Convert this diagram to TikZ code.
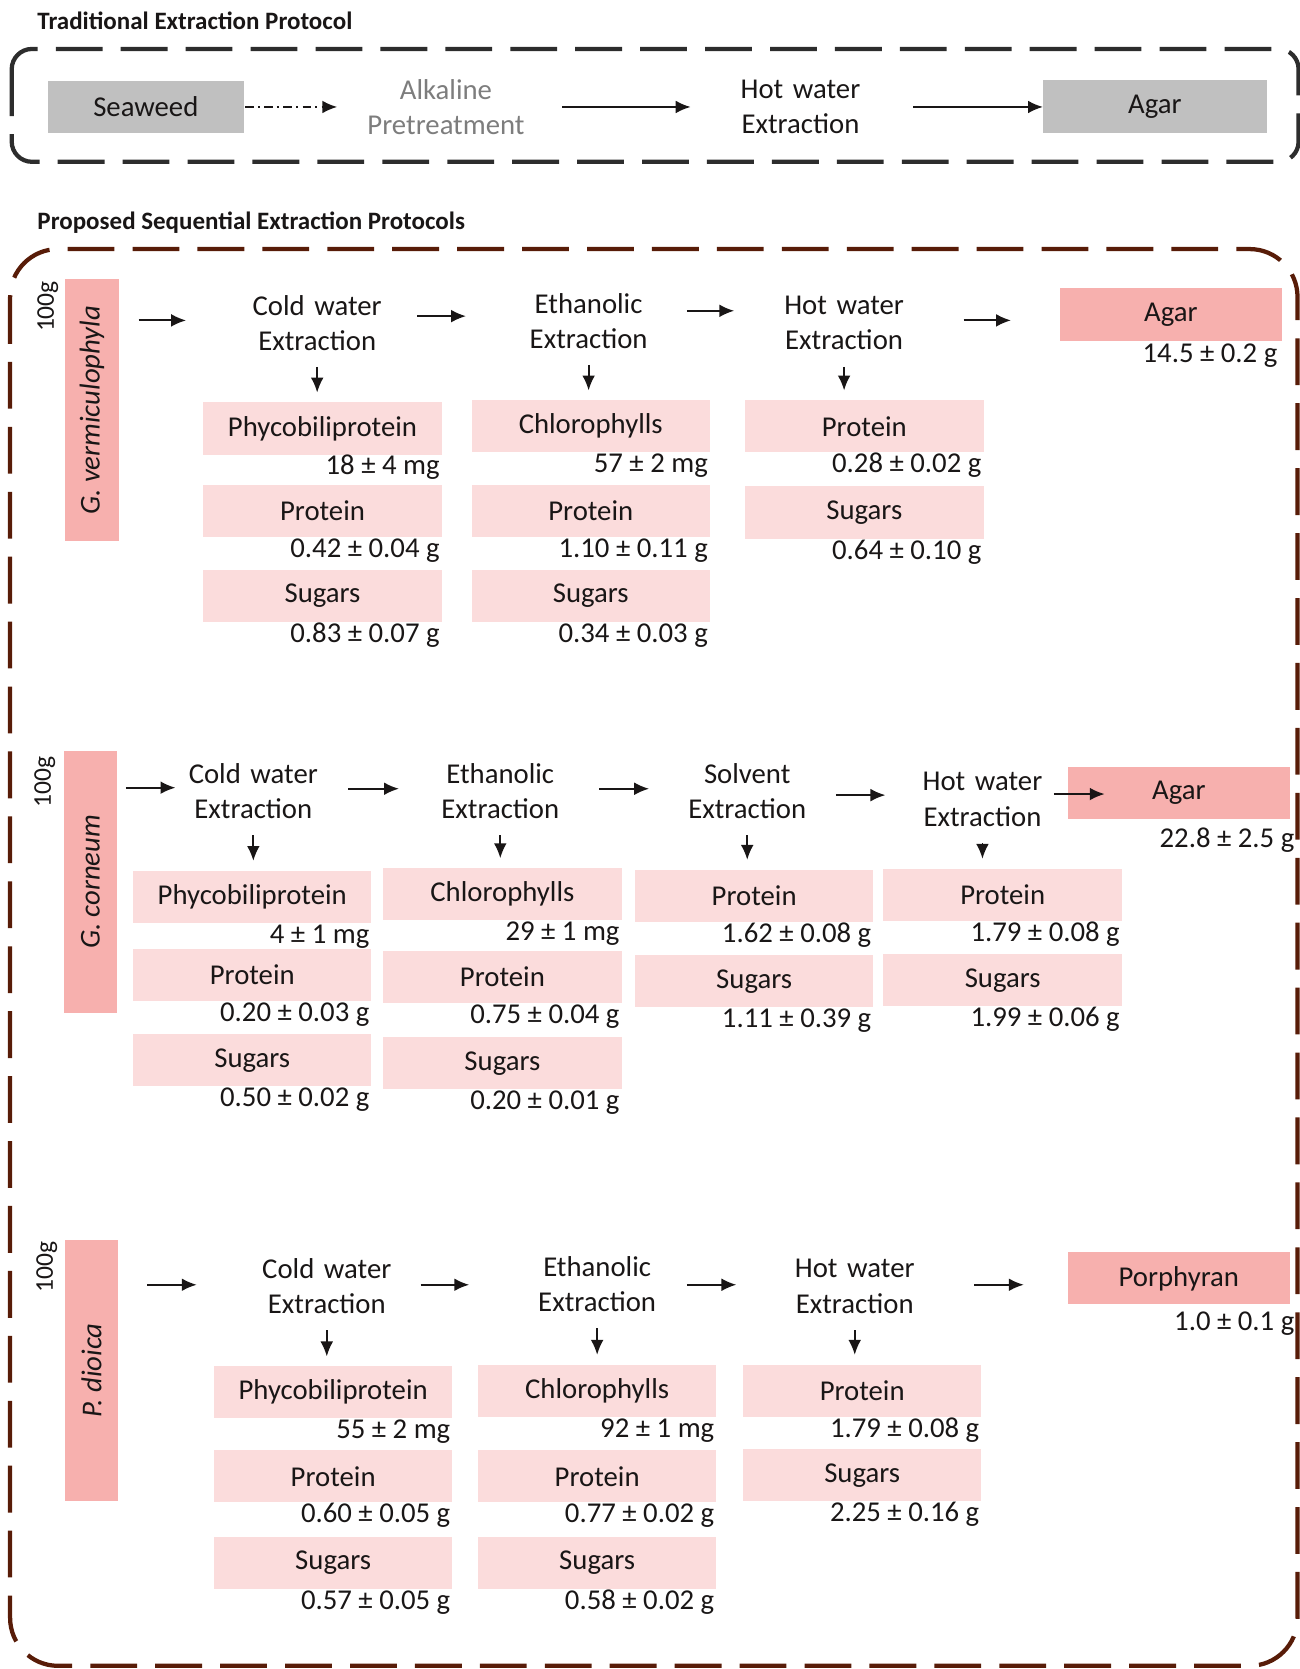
\documentclass[tikz,border=0pt]{standalone}
\usepackage{fontspec}
\setmainfont{Carlito}
\usepackage{graphicx}
\usetikzlibrary{arrows.meta,positioning}
\definecolor{ink}{RGB}{25,22,22}
\definecolor{comppink}{RGB}{251,220,220}
\definecolor{prodpink}{RGB}{247,176,174}
\definecolor{boxgrey}{RGB}{192,192,192}
\definecolor{softgrey}{RGB}{125,125,125}
\definecolor{framedark}{RGB}{45,45,45}
\definecolor{framebrown}{RGB}{88,28,8}

\begin{document}
\begin{tikzpicture}[x=1pt,y=-1pt,
  every node/.style={font=\fontsize{27}{33}\selectfont, text=ink},
  headnode/.style={anchor=west, inner sep=0pt, font=\fontsize{23.5}{28}\selectfont\bfseries},
  massnode/.style={rotate=90, inner sep=0pt, font=\fontsize{24}{28}\selectfont},
  extr/.style={align=center, text width=130pt, minimum height=66pt, inner sep=0pt},
  comp/.style={fill=comppink, minimum width=224pt, minimum height=49pt, inner sep=0pt},
  prod/.style={fill=prodpink, minimum width=208pt, minimum height=49pt, inner sep=0pt},
  species/.style={fill=prodpink, minimum width=50pt, minimum height=246pt, inner sep=0pt},
  greybox/.style={fill=boxgrey, minimum height=49pt, inner sep=0pt},
  val/.style={anchor=base east, inner sep=0pt},
  flow/.style={-{Latex[length=14pt,width=12pt]}, line width=1.7pt, draw=ink},
  downarr/.style={flow, shorten <=8pt, shorten >=9pt},
  boxframe/.style={line width=4pt, dash pattern=on 44pt off 17pt}]
\useasboundingbox (0,0) rectangle (1221,1568);

% traditional route
\draw[boxframe, draw=framedark, rounded corners=19pt] (11,46) rectangle (1220,152);
\node[headnode] (tit-trad) at (35,20) {Traditional Extraction Protocol};
\node[greybox, minimum width=184pt] (sw) at (137,100.5) {Seaweed};
\node[extr, text width=160pt, text=softgrey] (alk) at (419,100.5) {Alkaline\\Pretreatment};
\node[extr] (hwt) at (752,100.5) {Hot water\\Extraction};
\node[greybox, minimum width=210pt] (agt) at (1085,100) {Agar};
\draw[flow, dash pattern=on 8pt off 4pt on 2pt off 4pt, shorten <=1pt, shorten >=22pt] (sw.east) -- (sw.east -| alk.west);
\draw[flow, shorten <=29pt, shorten >=38pt] (alk.east) -- (alk.east -| hwt.west);
\draw[flow, shorten <=41pt] (hwt.east) -- (hwt.east -| agt.west);

% sequential route
\draw[boxframe, draw=framebrown, rounded corners=45pt] (9.5,234) rectangle (1219,1565);
\node[headnode] (tit-prop) at (35,209) {Proposed Sequential Extraction Protocols};

% G. vermiculophyla
\node[species] (gv) at (86.5,385.5) {\rotatebox{90}{\itshape G. vermiculophyla}};
\node[massnode] (gv-m) at (45,288) {100g};
\node[extr] (gv-cw) at (298,303.5) {Cold water\\Extraction};
\node[extr] (gv-eth) at (553,301.5) {Ethanolic\\Extraction};
\node[extr] (gv-hw) at (793,303.5) {Hot water\\Extraction};
\node[prod] (gv-agar) at (1100,295.5) {Agar};
\node[val] (gv-agar-v) at ([xshift=-4pt,yshift=-20.5pt]gv-agar.south east) {14.5 ± 0.2 g};

% G. corneum
\node[species] (gc) at (85,828.5) {\rotatebox{90}{\itshape G. corneum}};
\node[massnode] (gc-m) at (42,735) {100g};
\node[extr] (gc-cw) at (238,743.5) {Cold water\\Extraction};
\node[extr] (gc-eth) at (470,743.5) {Ethanolic\\Extraction};
\node[extr] (gc-sol) at (702,743.5) {Solvent\\Extraction};
\node[extr] (gc-hw) at (923,751) {Hot water\\Extraction};
\node[prod, minimum width=209pt] (gc-agar) at (1107.5,745) {Agar};
\node[val] (gc-agar-v) at ([xshift=4pt,yshift=-26.5pt]gc-agar.south east) {22.8 ± 2.5 g};

% P. dioica
\node[species] (pd) at (86,1287.5) {\rotatebox{90}{\itshape P. dioica}};
\node[massnode] (pd-m) at (44,1190) {100g};
\node[extr] (pd-cw) at (307,1208.5) {Cold water\\Extraction};
\node[extr] (pd-eth) at (561,1206.5) {Ethanolic\\Extraction};
\node[extr] (pd-hw) at (803,1208.5) {Hot water\\Extraction};
\node[prod, minimum width=209pt] (pd-por) at (1107.5,1201) {Porphyran};
\node[val] (pd-por-v) at ([xshift=4pt,yshift=-24.5pt]pd-por.south east) {1.0 ± 0.1 g};

% fractions with yields
\foreach \n/\x/\y/\t/\v in {
  gv-cw-phy/303/402.5/Phycobiliprotein/{18 ± 4 mg},
  gv-cw-pro/303/480/Protein/{0.42 ± 0.04 g},
  gv-cw-sug/303/560/Sugars/{0.83 ± 0.07 g},
  gv-eth-chl/555/400.5/Chlorophylls/{57 ± 2 mg},
  gv-eth-pro/555/480/Protein/{1.10 ± 0.11 g},
  gv-eth-sug/555/560/Sugars/{0.34 ± 0.03 g},
  gv-hw-pro/812/400.5/Protein/{0.28 ± 0.02 g},
  gv-hw-sug/812/481.5/Sugars/{0.64 ± 0.10 g},
  gc-cw-phy/237/842.5/Phycobiliprotein/{4 ± 1 mg},
  gc-cw-pro/237/916/Protein/{0.20 ± 0.03 g},
  gc-cw-sug/237/996/Sugars/{0.50 ± 0.02 g},
  gc-eth-chl/472/840/Chlorophylls/{29 ± 1 mg},
  gc-eth-pro/472/918/Protein/{0.75 ± 0.04 g},
  gc-eth-sug/472/999/Sugars/{0.20 ± 0.01 g},
  gc-sol-pro/708.5/841.5/Protein/{1.62 ± 0.08 g},
  gc-sol-sug/708.5/922/Sugars/{1.11 ± 0.39 g},
  gc-hw-pro/942/840.5/Protein/{1.79 ± 0.08 g},
  gc-hw-sug/942/921/Sugars/{1.99 ± 0.06 g},
  pd-cw-phy/313/1308/Phycobiliprotein/{55 ± 2 mg},
  pd-cw-pro/313/1387/Protein/{0.60 ± 0.05 g},
  pd-cw-sug/313/1468/Sugars/{0.57 ± 0.05 g},
  pd-eth-chl/561/1306.5/Chlorophylls/{92 ± 1 mg},
  pd-eth-pro/561/1387/Protein/{0.77 ± 0.02 g},
  pd-eth-sug/561/1468/Sugars/{0.58 ± 0.02 g},
  pd-hw-pro/810/1306.5/Protein/{1.79 ± 0.08 g},
  pd-hw-sug/810/1386/Sugars/{2.25 ± 0.16 g}}{
  \node[comp] (\n) at (\x,\y) {\t};
  \node[val] (\n-v) at ([xshift=-2pt,yshift=-19pt]\n.south east) {\v};
}

% step arrows
\foreach \a/\b/\s/\e/\dy in {
  gv/gv-cw/18.5/58/84.5, gv-cw/gv-eth/29/50/6.5, gv-eth/gv-hw/27/38/9.5, gv-hw/gv-agar/47/46/2.5,
  gc/gc-cw/8/8/88.5, gc-cw/gc-eth/24/30/2.5, gc-eth/gc-sol/28/27/2.5, gc-sol/gc-hw/18/26/-3.5, gc-hw/gc-agar/2/-35/5,
  pd/pd-cw/27/57/80.5, pd-cw/pd-eth/23/55/1.5, pd-eth/pd-hw/19/46/-0.5, pd-hw/pd-por/47/41/1.5}{
  \coordinate (\a-o) at ([yshift=\dy pt]\a.east);
  \draw[flow, shorten <=\s pt, shorten >=\e pt] (\a-o) -- (\a-o -| \b.west);
}
\foreach \a/\b in {gv-cw/gv-cw-phy, gv-eth/gv-eth-chl, gv-hw/gv-hw-pro,
  gc-cw/gc-cw-phy, gc-eth/gc-eth-chl, gc-sol/gc-sol-pro, gc-hw/gc-hw-pro,
  pd-cw/pd-cw-phy, pd-eth/pd-eth-chl, pd-hw/pd-hw-pro}
  \draw[downarr] (\a.south) -- (\a.south |- \b.north);
\end{tikzpicture}
\end{document}
